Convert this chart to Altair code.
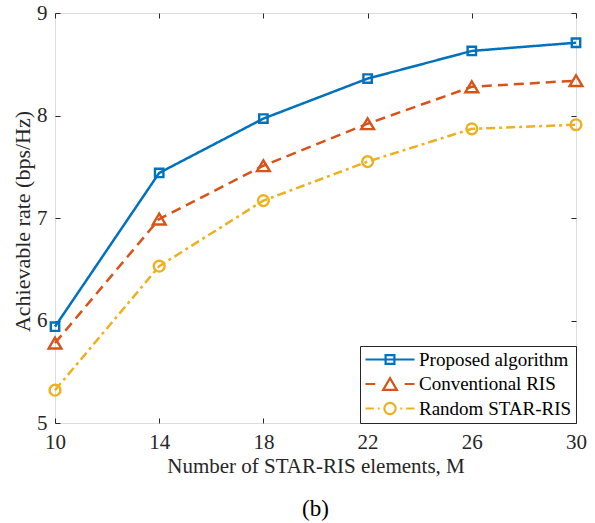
import altair as alt
import pandas as pd

# ---- data ----
m_values = [10, 14, 18, 22, 26, 30]
proposed = [5.94, 7.44, 7.97, 8.36, 8.63, 8.71]
conventional = [5.78, 6.99, 7.51, 7.92, 8.28, 8.34]
random_star = [5.32, 6.53, 7.17, 7.55, 7.87, 7.91]
series_names = ["Proposed algorithm", "Conventional RIS", "Random STAR-RIS"]
x_ticks = [10, 14, 18, 22, 26, 30]
y_ticks = [5, 6, 7, 8, 9]

colors = ["#0072BD", "#D95319", "#EDB120"]
dashes = [[1, 0], [10, 6], [9, 4, 3, 4]]
marker_paths = [
    "M-1.05,-1.05L1.05,-1.05L1.05,1.05L-1.05,1.05Z",
    "M0,-1.35L1.6,1.35L-1.6,1.35Z",
    "M1.35,0A1.35,1.35 0 1,1 -1.35,0A1.35,1.35 0 1,1 1.35,0Z",
]
legend_paths = [
    "M-1,0L1,0M-0.18,-0.18L0.18,-0.18L0.18,0.18L-0.18,0.18Z",
    "M-1,0L-0.6,0M0.6,0L1,0M0,-0.24L0.28,0.24L-0.28,0.24Z",
    "M-1,0L-0.66,0M-0.5,0L-0.42,0M0.42,0L0.5,0M0.66,0L1,0"
    "M0.23,0A0.23,0.23 0 1,1 -0.23,0A0.23,0.23 0 1,1 0.23,0Z",
]

rows = []
for name, vals in zip(series_names, [proposed, conventional, random_star]):
    for m, v in zip(m_values, vals):
        rows.append({"M": m, "rate": v, "series": name})
df = pd.DataFrame(rows)

FONT = "Liberation Serif, Times New Roman, serif"
AX = "#262626"
FS = 21

x_scale = alt.Scale(domain=[10, 30], nice=False, zero=False)
y_scale = alt.Scale(domain=[5, 9], nice=False, zero=False)


def color_scale():
    return alt.Scale(domain=series_names, range=colors)


common_axis = dict(
    grid=False, domain=False, ticks=True, tickSize=5, offset=-5,
    tickColor=AX, tickWidth=1, labelFont=FONT, labelFontSize=FS,
    labelColor=AX, labelFlush=False, labelOverlap=False,
    titleFont=FONT, titleFontWeight="normal", titleColor=AX,
)

x_bottom = alt.Axis(values=x_ticks, orient="bottom", format="d",
                    title="Number of STAR-RIS elements, M", titleFontSize=FS,
                    labelPadding=8, titlePadding=3, **common_axis)
y_left = alt.Axis(values=y_ticks, orient="left", format="d",
                  title="Achievable rate (bps/Hz)", titleFontSize=22,
                  labelPadding=8,
                  titleX=-38, titleY=208, titleAngle=-90,
                  titleBaseline="middle", titleAlign="center", **common_axis)
x_top = alt.Axis(values=x_ticks, orient="top", labels=False, title=None,
                 grid=False, domain=False, tickSize=5, offset=-5,
                 tickColor=AX)
y_right = alt.Axis(values=y_ticks, orient="right", labels=False, title=None,
                   grid=False, domain=False, tickSize=5, offset=-5,
                   tickColor=AX)

base = alt.Chart(df)

lines = base.mark_line(strokeWidth=2.5).encode(
    x=alt.X("M:Q", scale=x_scale, axis=x_bottom),
    y=alt.Y("rate:Q", scale=y_scale, axis=y_left),
    color=alt.Color("series:N", scale=color_scale(), legend=None),
    strokeDash=alt.StrokeDash("series:N",
                              scale=alt.Scale(domain=series_names, range=dashes),
                              legend=None),
)

points = base.mark_point(filled=False, strokeWidth=2.4, opacity=1, size=64).encode(
    x=alt.X("M:Q", scale=x_scale, axis=None),
    y=alt.Y("rate:Q", scale=y_scale, axis=None),
    color=alt.Color("series:N", scale=color_scale(), legend=None),
    shape=alt.Shape("series:N",
                    scale=alt.Scale(domain=series_names, range=marker_paths),
                    legend=None),
)

leg = alt.Legend(
    title=None, orient="bottom-right", offset=0, padding=4,
    symbolSize=2401, symbolStrokeWidth=2.2, clipHeight=19,
    labelFont=FONT, labelFontSize=19,
    labelColor="black", labelOffset=3, rowPadding=4.5,
    strokeColor=AX, fillColor="white",
)

legend_layer = base.transform_filter("false").mark_point(
    filled=False, strokeWidth=2.2, opacity=1
).encode(
    x=alt.X("M:Q", scale=x_scale, axis=x_top),
    y=alt.Y("rate:Q", scale=y_scale, axis=y_right),
    color=alt.Color("series:N", scale=color_scale(), legend=leg),
    shape=alt.Shape("series:N",
                    scale=alt.Scale(domain=series_names, range=legend_paths),
                    legend=leg),
)

chart = alt.layer(lines, points, legend_layer).resolve_scale(
    color="independent", shape="independent"
).properties(
    width=521, height=410,
    autosize=alt.AutoSizeParams(type="none"),
    padding={"left": 55, "top": 13, "right": 19, "bottom": 100},
    title=alt.TitleParams("(b)", orient="bottom", anchor="middle", font=FONT,
                          fontSize=23, fontWeight="normal", color="black",
                          offset=22),
).configure_view(stroke=AX, strokeWidth=1).configure(background="white")

chart.save("out.html", embed_options={"renderer": "svg", "actions": False})
